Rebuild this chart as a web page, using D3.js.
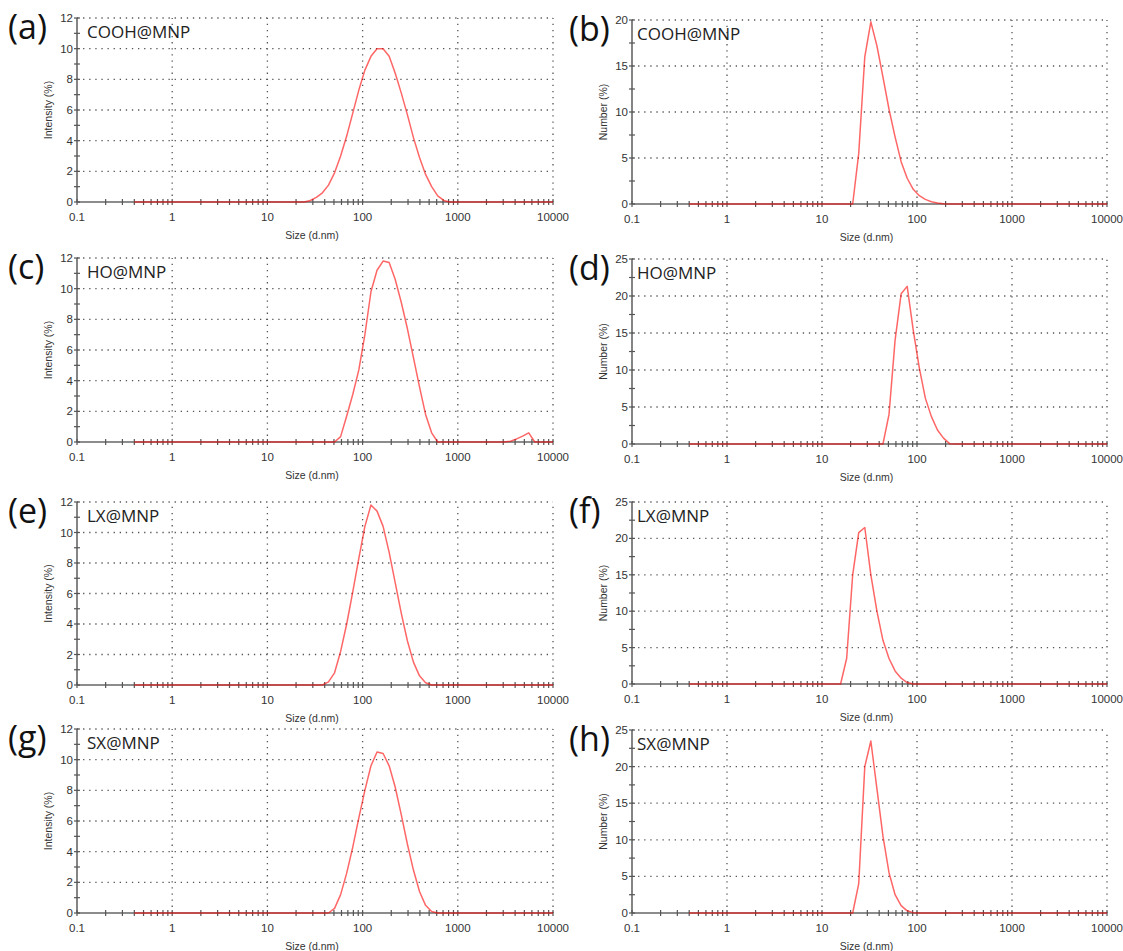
<!DOCTYPE html>
<html>
<head>
<meta charset="utf-8">
<script src="https://cdn.jsdelivr.net/npm/d3@7"></script>
<style>
  body { margin: 0; background: #fff; }
</style>
</head>
<body>
<div class="chart"></div>
<script>
// tick values and labels
const xTicks = [0.1, 1, 10, 100, 1000, 10000];
const xTickLabels = ["0.1", "1", "10", "100", "1000", "10000"];
const intensityTicks = [0, 2, 4, 6, 8, 10, 12];
const number20Ticks = [0, 5, 10, 15, 20];
const number25Ticks = [0, 5, 10, 15, 20, 25];

const panelLetters = ["(a)", "(b)", "(c)", "(d)", "(e)", "(f)", "(g)", "(h)"];
const sampleNames = ["COOH@MNP", "COOH@MNP", "HO@MNP", "HO@MNP", "LX@MNP", "LX@MNP", "SX@MNP", "SX@MNP"];

// [size (d.nm), %]
const coohIntensity = [[0.4,0],[24.36,0],[28.21,0.1],[32.67,0.3],[37.84,0.6],[43.82,1.1],[50.75,1.9],[58.77,3.0],
  [68.06,4.3],[78.82,5.8],[91.28,7.3],[105.7,8.6],[122.4,9.5],[141.8,10.0],[164.2,10.0],[190.1,9.5],[220.2,8.4],
  [255.0,7.1],[295.3,5.7],[342.0,4.2],[396.1,2.9],[458.7,1.8],[531.2,1.0],[615.1,0.4],[712.4,0.1],[825.0,0],[10000,0]];
const coohNumber = [[0.4,0],[21.04,0],[24.36,5.5],[28.21,16.0],[32.67,19.8],[37.84,17.2],[43.82,13.8],[50.75,10.3],
  [58.77,7.3],[68.06,4.6],[78.82,2.8],[91.28,1.6],[105.7,0.9],[122.4,0.5],[141.8,0.25],[164.2,0.1],[190.1,0.03],
  [220.2,0],[10000,0]];
const hoIntensity = [[0.4,0],[50.75,0],[58.77,0.35],[68.06,1.7],[78.82,3.1],[91.28,4.7],[105.7,7.0],[122.4,9.8],
  [141.8,11.2],[164.2,11.8],[190.1,11.7],[220.2,10.6],[255.0,9.1],[295.3,7.4],[342.0,5.5],[396.1,3.6],[458.7,1.8],
  [531.2,0.6],[615.1,0],[3091,0],[3580,0.05],[4145,0.2],[4801,0.38],[5560,0.6],[6439,0],[10000,0]];
const hoNumber = [[0.4,0],[43.82,0],[50.75,4.0],[58.77,14.0],[68.06,20.3],[78.82,21.3],[91.28,15.4],[105.7,10.3],
  [122.4,6.2],[141.8,3.7],[164.2,1.9],[190.1,0.8],[220.2,0.05],[255.0,0],[10000,0]];
const lxIntensity = [[0.4,0],[37.84,0],[43.82,0.2],[50.75,0.8],[58.77,2.2],[68.06,4.0],[78.82,6.1],[91.28,8.3],[105.7,10.4],
  [122.4,11.8],[141.8,11.4],[164.2,10.4],[190.1,8.7],[220.2,6.7],[255.0,4.7],[295.3,2.9],[342.0,1.5],[396.1,0.6],
  [458.7,0.15],[531.2,0],[10000,0]];
const lxNumber = [[0.4,0],[15.69,0],[18.17,3.5],[21.04,15.0],[24.36,20.8],[28.21,21.5],[32.67,15.0],[37.84,10.0],
  [43.82,6.0],[50.75,3.5],[58.77,1.8],[68.06,0.8],[78.82,0.2],[91.28,0],[10000,0]];
const sxIntensity = [[0.4,0],[43.82,0],[50.75,0.3],[58.77,1.2],[68.06,2.6],[78.82,4.3],[91.28,6.2],[105.7,8.0],
  [122.4,9.6],[141.8,10.5],[164.2,10.4],[190.1,9.6],[220.2,8.2],[255.0,6.4],[295.3,4.5],[342.0,2.8],[396.1,1.4],
  [458.7,0.5],[531.2,0.1],[615.1,0],[10000,0]];
const sxNumber = [[0.4,0],[21.04,0],[24.36,4.0],[28.21,20.0],[32.67,23.5],[37.84,17.0],[43.82,10.5],[50.75,5.5],
  [58.77,2.5],[68.06,1.0],[78.82,0.3],[91.28,0.05],[105.7,0],[10000,0]];

const series = [coohIntensity, coohNumber, hoIntensity, hoNumber, lxIntensity, lxNumber, sxIntensity, sxNumber];
const yTickSets = [intensityTicks, number20Ticks, intensityTicks, number25Ticks, intensityTicks, number25Ticks, intensityTicks, number25Ticks];

// layout (pixels)
const cols = [{x0: 77, x1: 553, nameDx: 10}, {x0: 632, x1: 1107, nameDx: 5}];
const rows = [[[18, 202], [20, 204]], [[258, 442], [259, 444]], [[502, 685], [502, 684]], [[729, 913], [730, 913]]];

const svg = d3.select(".chart").append("svg")
  .attr("width", 1123)
  .attr("height", 951)
  .style("font-family", "'Liberation Sans', Arial, sans-serif");

series.forEach((data, i) => {
  const r = Math.floor(i / 2), c = i % 2;
  const col = cols[c];
  const [top, bottom] = rows[r][c];
  const yTicks = yTickSets[i];
  const yMax = d3.max(yTicks);
  const isNumber = c === 1;

  const x = d3.scaleLog().domain([0.1, 10000]).range([col.x0, col.x1]);
  const y = d3.scaleLinear().domain([0, yMax]).range([bottom, top]);

  const g = svg.append("g");

  // dotted grid
  g.selectAll(".hgrid").data(yTicks.filter(d => d > 0)).enter().append("line")
    .attr("x1", col.x0).attr("x2", col.x1)
    .attr("y1", d => y(d)).attr("y2", d => y(d))
    .attr("stroke", "#555").attr("stroke-width", 1.3)
    .attr("stroke-dasharray", "1.3,4.8");
  g.selectAll(".vgrid").data(xTicks.filter(d => d > 0.1)).enter().append("line")
    .attr("x1", d => x(d)).attr("x2", d => x(d))
    .attr("y1", bottom).attr("y2", top)
    .attr("stroke", "#555").attr("stroke-width", 1.3)
    .attr("stroke-dasharray", "1.3,4.8");

  // axes lines
  g.append("line").attr("x1", col.x0).attr("x2", col.x1).attr("y1", bottom).attr("y2", bottom)
    .attr("stroke", "#666").attr("stroke-width", 1.6);
  g.append("line").attr("x1", col.x0).attr("x2", col.x0).attr("y1", bottom).attr("y2", top)
    .attr("stroke", "#666").attr("stroke-width", 1.6);

  // x ticks (log minors) crossing the axis
  const xTickVals = [];
  xTicks.slice(0, -1).forEach(d => { for (let k = 1; k <= 9; k++) xTickVals.push(d * k); });
  xTickVals.push(10000);
  g.selectAll(".xt").data(xTickVals).enter().append("line")
    .attr("x1", d => x(d)).attr("x2", d => x(d))
    .attr("y1", bottom - 3).attr("y2", bottom + 3)
    .attr("stroke", "#555").attr("stroke-width", 1.2);

  // y ticks (major + minor) crossing the axis
  const yStep = isNumber ? 2.5 : 1;
  const yTickVals = d3.range(0, yMax + 0.001, yStep);
  g.selectAll(".yt").data(yTickVals).enter().append("line")
    .attr("x1", col.x0 - 3).attr("x2", col.x0 + 3)
    .attr("y1", d => y(d)).attr("y2", d => y(d))
    .attr("stroke", "#555").attr("stroke-width", 1.2);

  // tick labels
  g.selectAll(".xl").data(xTicks).enter().append("text")
    .attr("x", d => x(d)).attr("y", bottom + 19)
    .attr("text-anchor", "middle")
    .attr("font-size", 11.5).attr("fill", "#333")
    .text((d, j) => xTickLabels[j]);
  g.selectAll(".yl").data(yTicks).enter().append("text")
    .attr("x", col.x0 - 4).attr("y", d => y(d) + 4)
    .attr("text-anchor", "end")
    .attr("font-size", 11.5).attr("fill", "#333")
    .text(d => d);

  // axis titles
  g.append("text")
    .attr("x", (col.x0 + col.x1) / 2 - 3).attr("y", bottom + 37)
    .attr("text-anchor", "middle").attr("font-size", 10.5).attr("fill", "#333")
    .text("Size (d.nm)");
  g.append("text")
    .attr("transform", `translate(${col.x0 - 25},${(top + bottom) / 2}) rotate(-90)`)
    .attr("text-anchor", "middle").attr("font-size", 10.5).attr("fill", "#333")
    .text(isNumber ? "Number (%)" : "Intensity (%)");

  // distribution curve
  const line = d3.line().x(d => x(d[0])).y(d => y(d[1]));
  g.append("path").datum(data)
    .attr("d", line)
    .attr("fill", "none")
    .attr("stroke", "red").attr("stroke-opacity", 0.6)
    .attr("stroke-width", 1.5).attr("stroke-linejoin", "round");

  // panel letter and sample name
  svg.append("text")
    .attr("x", c === 0 ? 8 : 569).attr("y", top + 21)
    .attr("font-family", "'Open Sans', sans-serif")
    .attr("font-size", 34).attr("fill", "#111")
    .text(panelLetters[i]);
  svg.append("text")
    .attr("x", col.x0 + col.nameDx).attr("y", top + 20)
    .attr("font-family", "'Open Sans', sans-serif")
    .attr("font-size", 17).attr("fill", "#222")
    .text(sampleNames[i]);
});
</script>
</body>
</html>
